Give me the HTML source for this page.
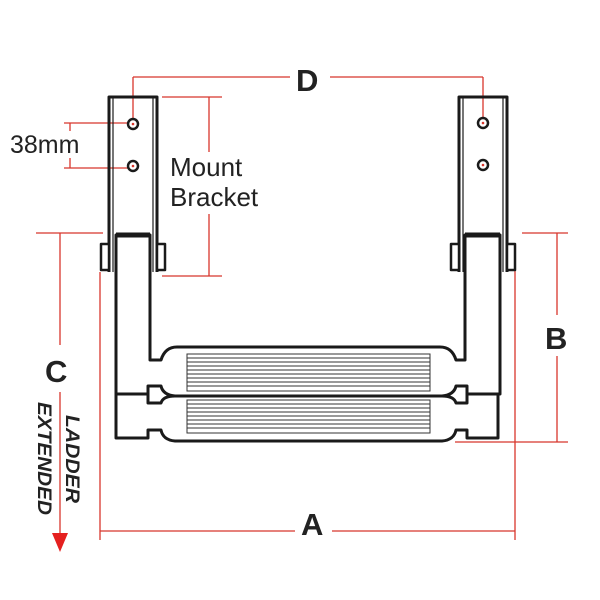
<!DOCTYPE html>
<html><head><style>
html,body{margin:0;padding:0;background:#fff;}
svg{display:block;}
text{font-family:"Liberation Sans",sans-serif;}
</style></head><body>
<svg width="600" height="600" viewBox="0 0 600 600" xmlns="http://www.w3.org/2000/svg">
<g stroke="#d8362c" stroke-width="1.3" fill="none">
  <line x1="133" y1="77" x2="290" y2="77"/><line x1="330" y1="77" x2="483" y2="77"/>
  <line x1="133" y1="77" x2="133" y2="125"/><line x1="483" y1="77" x2="483" y2="123"/>
  <line x1="64" y1="123" x2="130" y2="123"/><line x1="64" y1="168" x2="130" y2="168"/>
  <line x1="70" y1="123" x2="70" y2="131"/><line x1="70" y1="158" x2="70" y2="168"/>
  <line x1="162" y1="97" x2="222" y2="97"/><line x1="162" y1="276" x2="222" y2="276"/>
  <line x1="209" y1="97" x2="209" y2="152"/><line x1="209" y1="214" x2="209" y2="276"/>
  <line x1="36" y1="233" x2="103" y2="233"/>
  <line x1="60" y1="233" x2="60" y2="345"/>
  <line x1="60" y1="392" x2="60" y2="540"/>
  <line x1="522" y1="233" x2="568" y2="233"/><line x1="455" y1="442" x2="568" y2="442"/>
  <line x1="557" y1="233" x2="557" y2="315"/><line x1="557" y1="356" x2="557" y2="442"/>
  <line x1="100" y1="272" x2="100" y2="540"/><line x1="515" y1="268" x2="515" y2="540"/>
  <line x1="100" y1="531" x2="295" y2="531"/><line x1="332" y1="531" x2="515" y2="531"/>
</g>
<polygon points="52,533 68,533 60,552" fill="#e5201f"/>
<g fill="#222">
  <text x="296" y="91" font-size="31" font-weight="bold">D</text>
  <text x="10" y="153" font-size="25">38mm</text>
  <text x="170" y="176" font-size="26">Mount</text>
  <text x="170" y="206" font-size="26">Bracket</text>
  <text x="45" y="382" font-size="31" font-weight="bold">C</text>
  <text x="545" y="349" font-size="31" font-weight="bold">B</text>
  <text x="301" y="535" font-size="31" font-weight="bold">A</text>
  <text transform="translate(66,415) rotate(90)" font-size="19" font-weight="bold" font-style="italic" textLength="88" lengthAdjust="spacingAndGlyphs">LADDER</text>
  <text transform="translate(38,402) rotate(90)" font-size="19" font-weight="bold" font-style="italic" textLength="113" lengthAdjust="spacingAndGlyphs">EXTENDED</text>
</g>
<g stroke="#1a1a1a" stroke-width="3" fill="none" stroke-linejoin="round">
  <!-- legs -->
  <path d="M116,235 L116,394 L148,394 L148,386 L161,386 Q163,395 175,396 L442,396 Q454,395 456,386 L467,386 L467,394 L500,394 L500,235 L465,235 L465,360 L456,360 Q452,347 440,347 L177,347 Q165,347 161,360 L150,360 L150,235 Z" fill="#fff"/>
  <line x1="116" y1="235" x2="150" y2="235" stroke-width="5"/>
  <line x1="465" y1="235" x2="500" y2="235" stroke-width="5"/>
  <path d="M148,386 L148,403 L161,403 Q163,396 175,396" />
  <path d="M467,386 L467,403 L456,403 Q454,396 442,396"/>
  <path d="M116,394 L116,438 L148,438 L148,430 L161,430 Q163,440 175,441 L442,441 Q454,440 456,430 L467,430 L467,438 L498,438 L498,394"/>
  <!-- left bracket -->
  <path d="M109,272 L109,97 L157,97 L157,272"/>
  <line x1="113" y1="97" x2="113" y2="272" stroke-width="1.2"/>
  <line x1="153" y1="97" x2="153" y2="272" stroke-width="1.2"/>
  <rect x="101" y="244" width="8" height="26" stroke-width="2.5" fill="#fff"/>
  <rect x="157" y="244" width="8" height="26" stroke-width="2.5" fill="#fff"/>
  <!-- right bracket -->
  <path d="M459,272 L459,97 L507,97 L507,272"/>
  <line x1="463" y1="97" x2="463" y2="272" stroke-width="1.2"/>
  <line x1="503" y1="97" x2="503" y2="272" stroke-width="1.2"/>
  <rect x="451" y="244" width="8" height="26" stroke-width="2.5" fill="#fff"/>
  <rect x="507" y="244" width="8" height="26" stroke-width="2.5" fill="#fff"/>
</g>
<g stroke="#1a1a1a" stroke-width="2.5" fill="#fff">
  <circle cx="133" cy="124" r="5"/><circle cx="133" cy="166" r="5"/>
  <circle cx="483" cy="123" r="5"/><circle cx="483" cy="165" r="5"/>
</g>
<g fill="#d8362c"><circle cx="133" cy="124" r="1.3"/><circle cx="133" cy="166" r="1.3"/><circle cx="483" cy="123" r="1.3"/><circle cx="483" cy="165" r="1.3"/></g>
<g stroke="#333" stroke-width="1">
  <rect x="187" y="354" width="243" height="37" fill="none"/>
  <line x1="187" y1="358" x2="430" y2="358"/><line x1="187" y1="362" x2="430" y2="362"/>
  <line x1="187" y1="366" x2="430" y2="366"/><line x1="187" y1="370" x2="430" y2="370"/>
  <line x1="187" y1="374" x2="430" y2="374"/><line x1="187" y1="378" x2="430" y2="378"/>
  <line x1="187" y1="382" x2="430" y2="382"/><line x1="187" y1="386" x2="430" y2="386"/>
  <rect x="187" y="400" width="243" height="33" fill="none"/>
  <line x1="187" y1="404" x2="430" y2="404"/><line x1="187" y1="408" x2="430" y2="408"/>
  <line x1="187" y1="412" x2="430" y2="412"/><line x1="187" y1="416" x2="430" y2="416"/>
  <line x1="187" y1="420" x2="430" y2="420"/><line x1="187" y1="424" x2="430" y2="424"/>
  <line x1="187" y1="428" x2="430" y2="428"/>
</g>
</svg>
</body></html>
